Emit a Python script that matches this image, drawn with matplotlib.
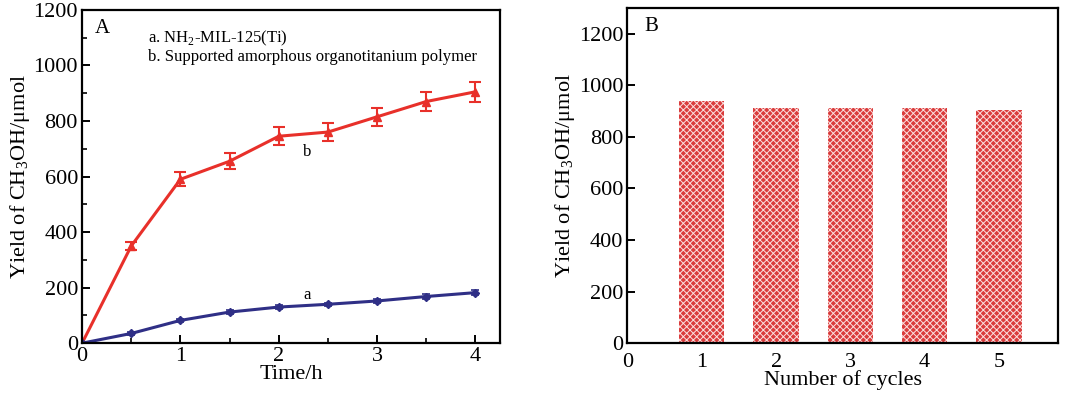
import numpy as np
import matplotlib
matplotlib.use("Agg")
import matplotlib.pyplot as plt
from matplotlib.ticker import MultipleLocator

plt.rcParams["font.family"] = ["Liberation Serif", "DejaVu Serif"]
plt.rcParams["mathtext.fontset"] = "custom"
plt.rcParams["mathtext.rm"] = "Liberation Serif"
plt.rcParams["hatch.linewidth"] = 0.7

# Panel A: yield vs time
time_h = [0, 0.5, 1, 1.5, 2, 2.5, 3, 3.5, 4]
yield_b = [0, 350, 590, 655, 745, 760, 815, 870, 905]
err_b = [0, 15, 25, 28, 32, 32, 33, 35, 35]
yield_a = [0, 35, 82, 112, 130, 140, 152, 168, 182]
err_a = [0, 5, 6, 6, 6, 6, 6, 8, 10]

# Panel B: cycling
cycles = [1, 2, 3, 4, 5]
yield_cycles = [940, 912, 912, 910, 905]

RED = "#e8302a"
BLUE = "#2f2f86"
YLABEL = r"Yield of CH$_3$OH/$\mathrm{\mu}$mol"

fig = plt.figure(figsize=(10.8, 3.94), dpi=100)
ax_a = fig.add_axes([0.076, 0.129, 0.387, 0.846])
ax_b = fig.add_axes([0.581, 0.129, 0.399, 0.851])

# --- Panel A ---
ax_a.errorbar(time_h, yield_b, yerr=err_b, color=RED, marker="^", markersize=6,
              linewidth=2.2, capsize=4, elinewidth=1.5, capthick=1.5)
ax_a.errorbar(time_h, yield_a, yerr=err_a, color=BLUE, marker="D", markersize=4.5,
              linewidth=2.2, capsize=3, elinewidth=1.2, capthick=1.2)
ax_a.set_xlim(0, 4.25)
ax_a.set_ylim(0, 1200)
ax_a.xaxis.set_major_locator(MultipleLocator(1))
ax_a.xaxis.set_minor_locator(MultipleLocator(0.5))
ax_a.yaxis.set_major_locator(MultipleLocator(200))
ax_a.yaxis.set_minor_locator(MultipleLocator(100))
ax_a.set_xlabel("Time/h", fontsize=16, labelpad=-1)
ax_a.set_ylabel(YLABEL, fontsize=16, labelpad=1)
ax_a.text(0.03, 0.945, "A", transform=ax_a.transAxes, fontsize=15, va="center")
ax_a.text(0.158, 0.915, r"a. NH$_2$-MIL-125(Ti)", transform=ax_a.transAxes,
          fontsize=12, va="center")
ax_a.text(0.158, 0.858, "b. Supported amorphous organotitanium polymer",
          transform=ax_a.transAxes, fontsize=12, va="center")
ax_a.text(2.29, 688, "b", fontsize=12, ha="center", va="center")
ax_a.text(2.29, 175, "a", fontsize=12, ha="center", va="center")

# --- Panel B ---
ax_b.bar(cycles, yield_cycles, width=0.61, color="#da3c3c", edgecolor="#fbe0e0",
         hatch="xxxxx", linewidth=0)
ax_b.set_xlim(0, 5.8)
ax_b.set_ylim(0, 1300)
ax_b.set_xticks([0, 1, 2, 3, 4, 5])
ax_b.yaxis.set_major_locator(MultipleLocator(200))
ax_b.set_xlabel("Number of cycles", fontsize=16, labelpad=-1)
ax_b.set_ylabel(YLABEL, fontsize=16, labelpad=1)
ax_b.text(0.04, 0.945, "B", transform=ax_b.transAxes, fontsize=15, va="center")

for ax in (ax_a, ax_b):
    for sp in ax.spines.values():
        sp.set_linewidth(1.6)
    ax.tick_params(which="major", direction="in", length=6, width=1.4, labelsize=16, pad=3)
    ax.tick_params(which="minor", direction="in", length=3.5, width=1.2)
ax_b.tick_params(axis="x", length=0, pad=7)

fig.savefig("out.png", dpi=100)
